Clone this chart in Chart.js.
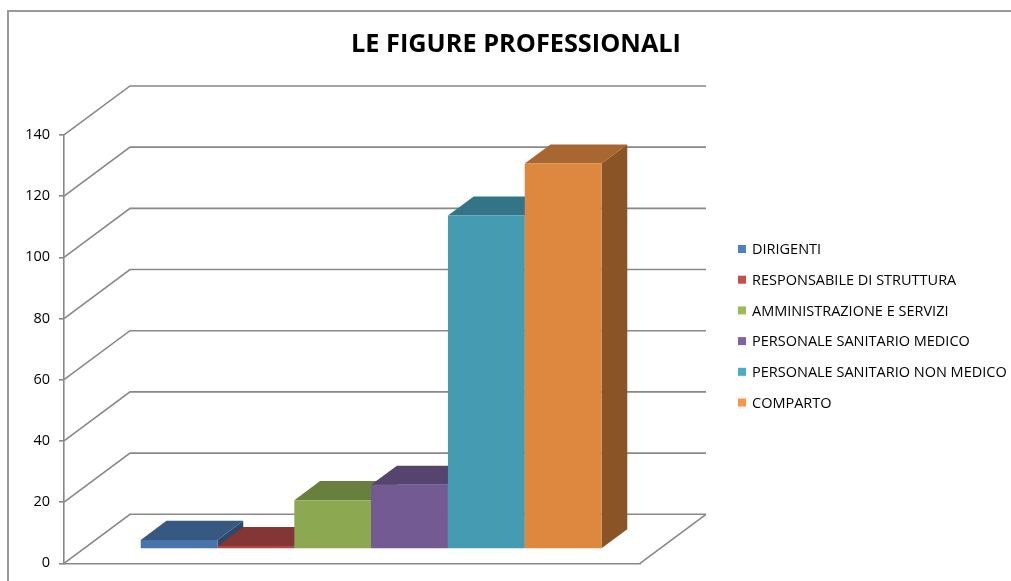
<!DOCTYPE html>
<html>
<head>
<meta charset="utf-8">
<script src="https://cdn.jsdelivr.net/npm/chart.js@4.4.1/dist/chart.umd.min.js"></script>
<style>
  html, body { margin: 0; padding: 0; background: #fff; }
</style>
</head>
<body>
<canvas id="chart" width="1011" height="581"></canvas>
<script>
/* Excel-style 3D column chart, redrawn with Chart.js.
 * Chart.js has no 3D bars, so a small plugin extrudes each bar
 * (and the y gridlines) along a fixed depth vector. */

const TITLE = "LE FIGURE PROFESSIONALI";
const SERIES = [
  "DIRIGENTI",
  "RESPONSABILE DI STRUTTURA",
  "AMMINISTRAZIONE E SERVIZI",
  "PERSONALE SANITARIO MEDICO",
  "PERSONALE SANITARIO NON MEDICO",
  "COMPARTO",
];
const VALUES = [3, 1, 16, 21, 109, 126];
const COLORS = ["#4F81BD", "#C0504D", "#9BBB59", "#8064A2", "#4BACC6", "#F79646"];
const Y_MIN = 0;
const Y_MAX = 140;
const Y_STEP = 20;

const DEPTH = { x: 66, y: -49 }; // front plane -> back wall
const BAR_DEPTH = [0.29, 0.68]; // bar front / back, as fraction of DEPTH
const GRID = "#888888";
const FONT = "'Open Sans', 'Liberation Sans', sans-serif";

function shade(hex, k) {
  const n = parseInt(hex.slice(1), 16);
  const r = Math.round(((n >> 16) & 255) * k);
  const g = Math.round(((n >> 8) & 255) * k);
  const b = Math.round((n & 255) * k);
  return `rgb(${r},${g},${b})`;
}

function poly(ctx, pts, fill) {
  ctx.beginPath();
  ctx.moveTo(pts[0][0], pts[0][1]);
  for (let i = 1; i < pts.length; i++) ctx.lineTo(pts[i][0], pts[i][1]);
  ctx.closePath();
  ctx.fillStyle = fill;
  ctx.fill();
}

const box3d = {
  id: "box3d",
  beforeDatasetsDraw(chart) {
    const { ctx, chartArea: a, scales } = chart;
    const y = scales.y;
    ctx.save();

    // back wall + side diagonals for each y tick
    ctx.strokeStyle = GRID;
    ctx.lineWidth = 1.6;
    y.ticks.forEach((t) => {
      const py = y.getPixelForValue(t.value);
      ctx.beginPath();
      ctx.moveTo(a.left, py);
      ctx.lineTo(a.left + DEPTH.x, py + DEPTH.y);
      ctx.lineTo(a.right + DEPTH.x, py + DEPTH.y);
      ctx.stroke();
    });
    // floor right edge
    const base = y.getPixelForValue(Y_MIN);
    ctx.beginPath();
    ctx.moveTo(a.right, base);
    ctx.lineTo(a.right + DEPTH.x, base + DEPTH.y);
    ctx.stroke();

    // bars, left to right so each front face covers the previous side
    const [f0, f1] = BAR_DEPTH;
    const dx = (f1 - f0) * DEPTH.x;
    const dy = (f1 - f0) * DEPTH.y;
    chart.data.datasets.forEach((ds, i) => {
      const bar = chart.getDatasetMeta(i).data[0];
      const c = ds.backgroundColor;
      const x0 = bar.x - bar.width / 2 + f0 * DEPTH.x;
      const x1 = bar.x + bar.width / 2 + f0 * DEPTH.x;
      const yt = bar.y + f0 * DEPTH.y;
      const yb = bar.base + f0 * DEPTH.y;
      poly(ctx, [[x1, yt], [x1 + dx, yt + dy], [x1 + dx, yb + dy], [x1, yb]], shade(c, 0.56));
      poly(ctx, [[x0, yt], [x0 + dx, yt + dy], [x1 + dx, yt + dy], [x1, yt]], shade(c, 0.68));
      poly(ctx, [[x0, yt], [x1, yt], [x1, yb], [x0, yb]], shade(c, 0.9));
    });

    ctx.restore();
    return false; // skip the flat default bars
  },
  afterDraw(chart) {
    const { ctx } = chart;
    ctx.save();

    // legend
    ctx.font = `14.5px ${FONT}`;
    ctx.textBaseline = "middle";
    ctx.textAlign = "left";
    chart.data.datasets.forEach((ds, i) => {
      const cy = 249 + i * 30.7;
      ctx.fillStyle = ds.backgroundColor;
      ctx.fillRect(738, cy - 4, 8, 8);
      ctx.fillStyle = "#000";
      ctx.fillText(ds.label, 752, cy + 1);
    });

    // chart frame (cropped at right and bottom)
    ctx.strokeStyle = "#9a9a9a";
    ctx.lineWidth = 2;
    ctx.beginPath();
    ctx.moveTo(8, chart.height);
    ctx.lineTo(8, 11);
    ctx.lineTo(chart.width, 11);
    ctx.stroke();
    ctx.restore();
  },
};

new Chart(document.getElementById("chart"), {
  type: "bar",
  data: {
    labels: [""],
    datasets: SERIES.map((label, i) => ({
      label,
      data: [VALUES[i]],
      backgroundColor: COLORS[i],
    })),
  },
  options: {
    responsive: false,
    animation: false,
    events: [],
    categoryPercentage: 0.8,
    barPercentage: 1,
    layout: { padding: { left: 21, top: 0, right: 0, bottom: 0 } },
    plugins: {
      legend: { display: false },
      tooltip: { enabled: false },
      title: {
        display: true,
        text: TITLE,
        color: "#000",
        font: { family: FONT, size: 25.3, weight: "bold", lineHeight: 1.2 },
        padding: { top: 30, bottom: 74.6 },
      },
    },
    scales: {
      x: {
        grid: { display: true, drawOnChartArea: false, drawTicks: false },
        border: { display: true, color: GRID, width: 1.6 },
        ticks: { display: false },
        afterFit: (s) => { s.height = 16; },
      },
      y: {
        min: Y_MIN,
        max: Y_MAX,
        ticks: { stepSize: Y_STEP, color: "#000", padding: 9, font: { family: FONT, size: 14.5 } },
        grid: { drawOnChartArea: false, tickLength: 5, color: GRID, lineWidth: 1.6 },
        border: { display: true, color: GRID, width: 1.6 },
        afterFit: (s) => { s.width = 43; },
      },
      y2: {
        position: "right",
        display: true,
        ticks: { display: false },
        grid: { display: false },
        border: { display: false },
        afterFit: (s) => { s.width = 371; },
      },
    },
  },
  plugins: [box3d],
});
</script>
</body>
</html>
